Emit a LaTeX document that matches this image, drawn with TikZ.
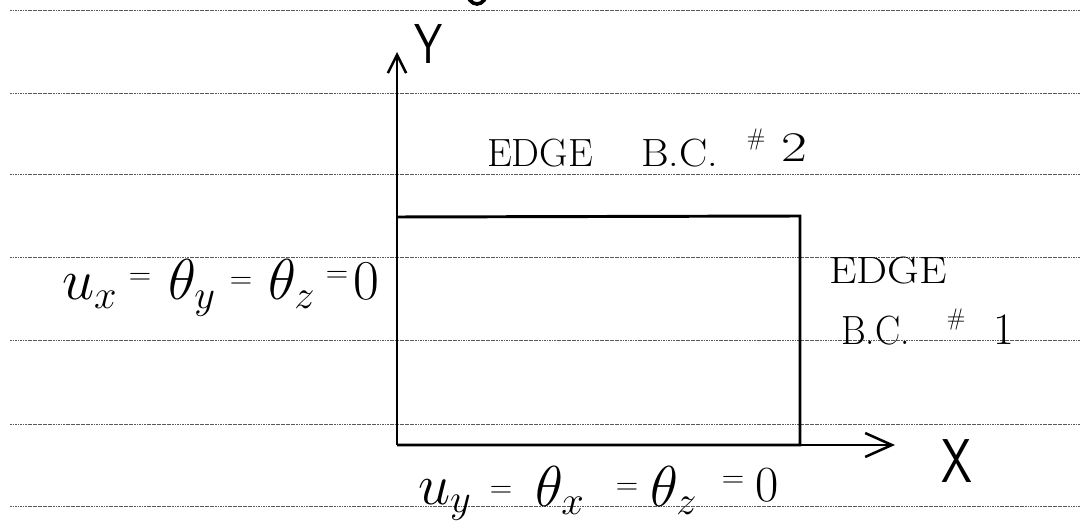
\RequirePackage{fix-cm}
\documentclass[tikz,border=0pt]{standalone}
\usetikzlibrary{arrows.meta}
\begin{document}
\begin{tikzpicture}[x=0.025cm,y=-0.025cm,
  rule/.style={draw=black!65,line width=0.7pt,dash pattern=on 1.3pt off 0.5pt},
  ink/.style={draw=black,line width=2.1pt},
  yaxis/.style={ink,-{Straight Barb[length=13pt,width=13pt,line width=1.8pt]}},
  xaxis/.style={ink,-{Straight Barb[length=19pt,width=17pt,line width=1.8pt]}},
  txt/.style={inner sep=0pt,outer sep=0pt,anchor=base west},
  big/.style={txt,font=\fontsize{41}{43}\selectfont},
  eqs/.style={inner sep=0pt,font=\fontsize{17}{18}\selectfont},
  zero/.style={inner sep=0pt},
  captext/.style={txt,font=\fontsize{20}{22}\selectfont},
  hash/.style={inner sep=0pt,font=\fontsize{17}{18}\selectfont},
  axlabel/.style={inner sep=0pt}]
\useasboundingbox (0,0) rectangle (1080,524);
\fill[white] (0,0) rectangle (1080,524);
% ruled paper lines
\foreach \yy in {10,93,174,257,340,424,506}
  \draw[rule] (10,\yy) -- (1080,\yy);
% cut-off glyph at top
\begin{scope}
\clip (0,0) rectangle (1080,6);
\draw[line width=2.6pt] (477,-9) ellipse (10 and 13);
\end{scope}
% axes
\coordinate (O) at (397,445);
\coordinate (ytip) at (397,52);
\coordinate (xtip) at (895,445);
\draw[yaxis] (O) -- (ytip);
\draw[xaxis] (O) -- (xtip);
\node[axlabel,font=\sffamily\fontsize{40}{42}\selectfont] (Y) at (429,44) {\scalebox{0.8}[1]{Y}};
\node[axlabel,font=\sffamily\fontsize{44}{46}\selectfont] (X) at (957,461) {\scalebox{0.8}[1]{X}};
% plate
\coordinate (TL) at (397,217);
\coordinate (TR) at (800,216);
\coordinate (BR) at (800,445);
\draw[ink] (TL) -- (TR) -- (BR) -- (O);
% top edge label
\node[captext] (e2) at (487,167) {\scalebox{1.4}{EDGE}};
\node[captext] (bc2) at (641,167) {\scalebox{1.5}[1.4]{B.C.}};
\node[hash] (h2) at (756,140) {\#};
\node[captext] (n2) at (781,162) {\scalebox{2}[1.5]{2}};
% right edge label
\node[captext] (e1) at (829,284) {\scalebox{1.56}[1.35]{EDGE}};
\node[captext] (bc1) at (841,345) {\scalebox{1.34}[1.45]{B.C.}};
\node[hash] (h1) at (956,320) {\#};
\node[captext] (n1) at (993,345) {\scalebox{1.6}{1}};
% left boundary condition
\node[big] (lu) at (62,300) {$u_{x}$};
\node[eqs] (le1) at (140,279) {\scalebox{1.3}{$=$}};
\node[big] (lty) at (168,300) {$\theta_{y}$};
\node[eqs] (le2) at (241,283) {\scalebox{1.3}{$=$}};
\node[big] (ltz) at (268,300) {$\theta_{z}$};
\node[eqs] (le3) at (337,277) {\scalebox{1.3}{$=$}};
\node[zero,font=\fontsize{40}{42}\selectfont] (l0) at (366,281) {$0$};
% bottom boundary condition
\node[big] (bu) at (418,504) {$u_{y}$};
\node[eqs] (be1) at (501,492) {\scalebox{1.3}{$=$}};
\node[big] (btx) at (535,506) {$\theta_{x}$};
\node[eqs] (be2) at (627,489) {\scalebox{1.3}{$=$}};
\node[big] (btz) at (650,506) {$\theta_{z}$};
\node[eqs] (be3) at (733,482) {\scalebox{1.3}{$=$}};
\node[zero,font=\fontsize{36}{38}\selectfont] (b0) at (767,485) {$0$};
\end{tikzpicture}
\end{document}
